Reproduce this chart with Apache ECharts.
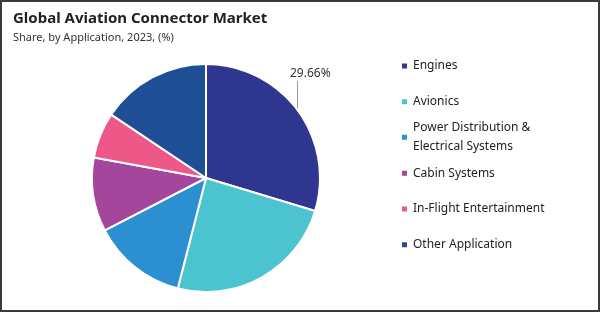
<!DOCTYPE html>
<html><head><meta charset="utf-8">
<script src="https://cdn.jsdelivr.net/npm/echarts@6/dist/echarts.min.js"></script>
<style>
html,body{margin:0;padding:0;background:#fff;}
#wrap{position:relative;width:600px;height:312px;}
#c{width:600px;height:312px;}
#frame{position:absolute;left:0;top:0;width:600px;height:312px;box-sizing:border-box;border:2px solid #3a3a3a;pointer-events:none;}
</style></head>
<body><div id="wrap"><div id="c"></div><div id="frame"></div></div>
<script>
const categories = ['Engines','Avionics','Power Distribution & Electrical Systems','Cabin Systems','In-Flight Entertainment','Other Application'];
const values = [29.66, 24.3, 13.4, 10.5, 6.5, 15.6];
const colors = ['#2e3690','#4cc4cf','#2b8fd1','#a4469b','#ee5889','#1e4f95'];
const legendTops = [66, 101.7, 137.3, 173.3, 209, 244.7];
const FONT = 'Noto Sans';

const chart = echarts.init(document.getElementById('c'));
const legends = categories.map((name, i) => {
  const two = i === 2;
  const lh = 18.6;
  return {
    data: [name], orient: 'vertical', left: 400,
    top: two ? legendTops[i] - lh * 1.5 : legendTops[i] - lh / 2,
    padding: 0, itemWidth: 7, itemHeight: 7, itemGap: 0, icon: 'rect',
    selectedMode: false,
    formatter: two ? 'Power Distribution &\nElectrical Systems' : '{name}',
    textStyle: { fontFamily: FONT, fontSize: 12, color: '#222', lineHeight: lh,
      padding: two ? [lh, 0, 0, 0] : 0 }
  };
});
chart.setOption({
  animation: false,
  color: colors,
  title: {
    text: 'Global Aviation Connector Market',
    subtext: 'Share, by Application, 2023, (%)',
    left: 8, top: 6, itemGap: 6,
    textStyle: { fontFamily: FONT, fontSize: 15, fontWeight: 'bold', color: '#222' },
    subtextStyle: { fontFamily: FONT, fontSize: 11, color: '#333' }
  },
  legend: legends,
  series: [{
    type: 'pie', center: [206, 178], radius: 114, startAngle: 90, clockwise: true,
    itemStyle: { borderColor: '#fff', borderWidth: 2 },
    label: { show: false },
    labelLine: { show: false },
    data: categories.map((n, i) => ({
      name: n, value: values[i],
      label: i === 0 ? { show: true, position: 'outside', formatter: '{c}%',
        fontFamily: FONT, fontSize: 12, color: '#333' } : undefined,
      labelLine: i === 0 ? { show: true, length: 15, length2: 0, lineStyle: { color: '#999', width: 1 } } : undefined
    })),
    labelLayout: function (p) {
      if (p.dataIndex === 0) {
        const out = { x: 290, y: 74, align: 'left', verticalAlign: 'middle' };
        if (p.labelLinePoints && p.labelLinePoints.length) {
          const a = p.labelLinePoints[0];
          out.labelLinePoints = [[a[0], a[1]], [a[0], 81]];
        }
        return out;
      }
      return {};
    }
  }]
});
</script></body></html>
